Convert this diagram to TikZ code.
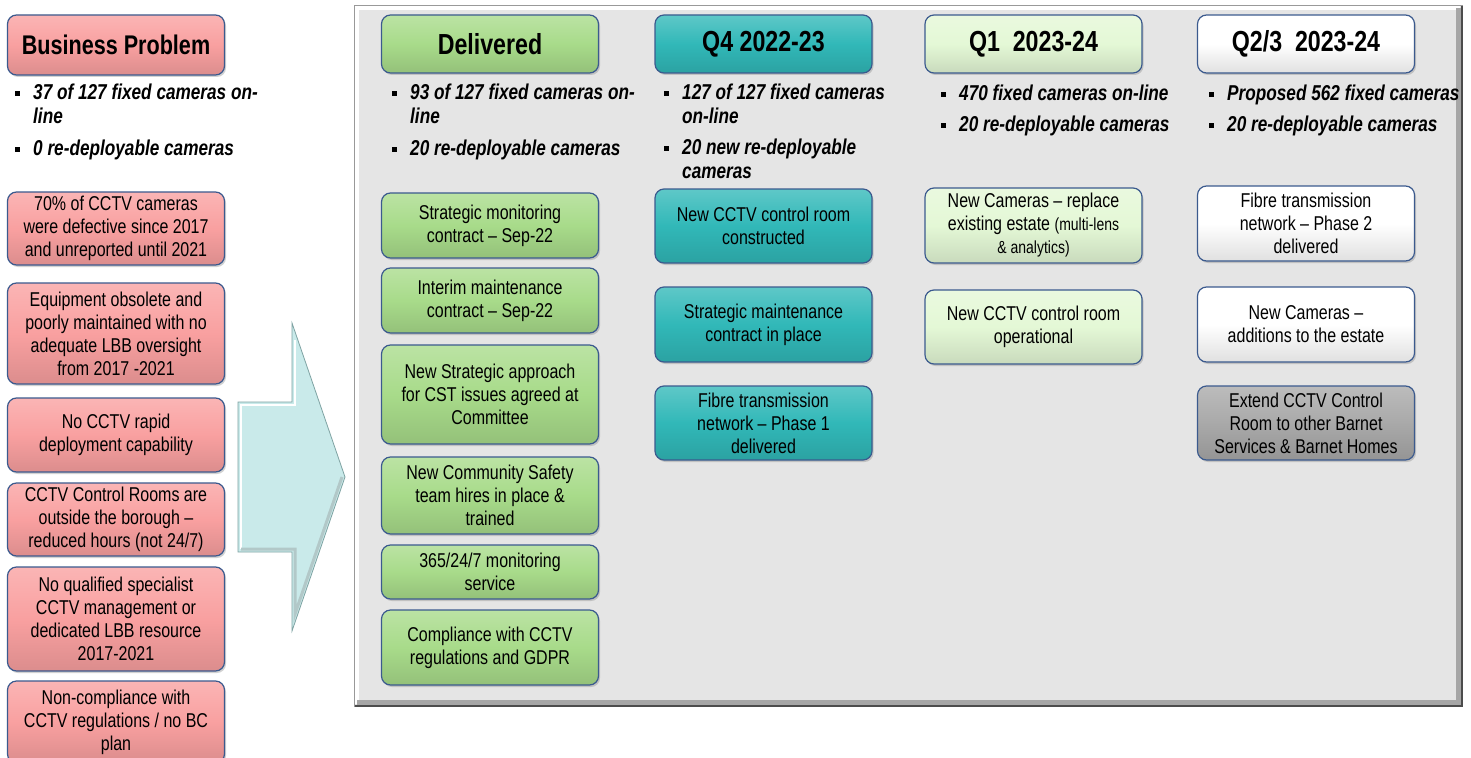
\documentclass[tikz,border=0pt]{standalone}
\usepackage{fontspec}
\setmainfont{Liberation Sans}[FakeStretch=0.8]
\usetikzlibrary{positioning, shadows}

\definecolor{edgeblue}{HTML}{3B5A8E}
\definecolor{redfill}{HTML}{F9A0A0}
\definecolor{greenfill}{HTML}{A8DB8A}
\definecolor{tealfill}{HTML}{31B8B8}
\definecolor{palefill}{HTML}{E4F8D6}
\definecolor{greyfill}{HTML}{A9A9A9}
\definecolor{panelfill}{HTML}{E5E5E5}
\definecolor{arrowfill}{HTML}{C9EAEA}
\definecolor{arrowedge}{HTML}{7FA3A3}

\newcommand{\boxfont}{\fontsize{20}{23}\selectfont}
\newcommand{\headfont}{\fontsize{29}{30}\selectfont\bfseries}
\newcommand{\listfont}{\fontsize{21.5}{24}\selectfont\bfseries\itshape}
\newcommand{\smallfont}{\fontsize{17.5}{20}\selectfont}
\newcommand{\sq}{\makebox[18pt][l]{\raisebox{4pt}{\rule{5pt}{5pt}}}}
\newcommand{\ind}{\hspace*{18pt}}

\tikzset{
    x=1pt, y=-1pt, % one unit per pixel, y runs down
    card/.style={rounded corners=9pt, draw=edgeblue, line width=1.2pt, inner sep=0pt,
        align=center, font=\boxfont, minimum width=217pt,
        drop shadow={shadow xshift=1.5pt, shadow yshift=-2pt, opacity=0.35}}, % every box
    tintfill/.style={top color=#1!78!white, bottom color=#1!88!black, middle color=#1}, % bevel look
    headcard/.style={card, font=\headfont, minimum height=58pt}, % column titles
    redcard/.style={card, tintfill=redfill},
    greencard/.style={card, tintfill=greenfill},
    tealcard/.style={card, tintfill=tealfill},
    palecard/.style={card, tintfill=palefill},
    whitecard/.style={card, top color=white, bottom color=black!12, middle color=white},
    greycard/.style={card, tintfill=greyfill},
    bullets/.style={anchor=north west, inner sep=0pt, align=left, font=\listfont}, % bullet lists
}

\begin{document}
\begin{tikzpicture}
    \useasboundingbox (0,0) rectangle (1471,757);
    \clip (0,0) rectangle (1471,757);
    \fill[white] (0,0) rectangle (1471,757);

    % grey panel
    \fill[panelfill] (354,5) rectangle (1463,707);
    \draw[white, line width=4pt] (357,704) -- (357,8) -- (1460,8);
    \draw[black!40, line width=0.8pt] (354,707) -- (354,5) -- (1463,5);
    \draw[black!35, line width=5pt] (1458,8) -- (1458,702) -- (357,702);
    \draw[black!70, line width=2pt] (1462,6) -- (1462,706) -- (355,706);

    % block arrow
    \fill[arrowfill] (238,402) -- (292,402) -- (292,323) -- (345,477) -- (292,631) -- (292,552) -- (238,552) -- cycle;
    \draw[white, line width=2.5pt] (241,549) -- (241,405) -- (295,405) -- (295,340);
    \draw[arrowedge!60!white, line width=3pt] (342,477) -- (295,614) -- (295,549) -- (241,549);
    \draw[arrowedge, line width=0.8pt] (238,402) -- (292,402) -- (292,323) -- (345,477) -- (292,631) -- (292,552) -- (238,552) -- cycle;

    \node[headcard, tintfill=redfill, minimum height=60pt, font=\fontsize{27}{30}\selectfont\bfseries] at (116,45) (PROBLEM) {Business Problem};
    \node[bullets] at (15,84) (PROBLEMLIST) {\sq 37 of 127 fixed cameras on-\\\ind line\\[8pt]\sq 0 re-deployable cameras};

    \node[redcard, minimum height=73pt] at ([yshift=-183.5pt]PROBLEM) (P1) {70\% of CCTV cameras\\were defective since 2017\\and unreported until 2021};
    \node[redcard, minimum height=101pt] at ([yshift=-105pt]P1) (P2) {Equipment obsolete and\\poorly maintained with no\\adequate LBB oversight\\from 2017 -2021};
    \node[redcard, minimum height=74pt] at ([yshift=-101.5pt]P2) (P3) {No CCTV rapid\\deployment capability};
    \node[redcard, minimum height=73pt] at ([yshift=-84.5pt]P3) (P4) {CCTV Control Rooms are\\outside the borough --\\reduced hours (not 24/7)};
    \node[redcard, minimum height=104pt] at ([yshift=-99.5pt]P4) (P5) {No qualified specialist\\CCTV management or\\dedicated LBB resource\\2017-2021};
    \node[redcard, minimum height=82pt] at ([yshift=-103pt]P5) (P6) {Non-compliance with\\CCTV regulations / no BC\\plan};

    \node[headcard, tintfill=greenfill] at (490,44) (DELIVERED) {Delivered};
    \node[bullets] at (392,84) (DELIVEREDLIST) {\sq 93 of 127 fixed cameras on-\\\ind line\\[8pt]\sq 20 re-deployable cameras};

    \node[greencard, minimum height=65pt] at ([yshift=-181.5pt]DELIVERED) (D1) {Strategic monitoring\\contract -- Sep-22};
    \node[greencard, minimum height=65pt] at ([yshift=-75pt]D1) (D2) {Interim maintenance\\contract -- Sep-22};
    \node[greencard, minimum height=99pt] at ([yshift=-94pt]D2) (D3) {New Strategic approach\\for CST issues agreed at\\Committee};
    \node[greencard, minimum height=77pt] at ([yshift=-101pt]D3) (D4) {New Community Safety\\team hires in place \&\\trained};
    \node[greencard, minimum height=54pt] at ([yshift=-76.5pt]D4) (D5) {365/24/7 monitoring\\service};
    \node[greencard, minimum height=75pt] at ([yshift=-75.5pt]D5) (D6) {Compliance with CCTV\\regulations and GDPR};

    \node[headcard, tintfill=tealfill] at (763.5,44) (QFOUR) {Q4 2022-23};
    \node[bullets] at (664,84) (QFOURLIST) {\sq 127 of 127 fixed cameras\\\ind on-line\\[7pt]\sq 20 new re-deployable\\\ind cameras};

    \node[tealcard, minimum height=74pt] at ([yshift=-182pt]QFOUR) (F1) {New CCTV control room\\constructed};
    \node[tealcard, minimum height=75pt] at ([yshift=-98.5pt]F1) (F2) {Strategic maintenance\\contract in place};
    \node[tealcard, minimum height=74pt] at ([yshift=-98.5pt]F2) (F3) {Fibre transmission\\network -- Phase 1\\delivered};

    \node[headcard, tintfill=palefill] at (1033.5,44) (QONE) {Q1\ \ 2023-24};
    \node[bullets] at (941,85) (QONELIST) {\sq 470 fixed cameras on-line\\[7pt]\sq 20 re-deployable cameras};

    \node[palecard, minimum height=75pt] at ([yshift=-181.5pt]QONE) (O1) {New Cameras -- replace\\existing estate {\smallfont (multi-lens}\\{\smallfont \& analytics)}};
    \node[palecard, minimum height=74pt] at ([yshift=-101.5pt]O1) (O2) {New CCTV control room\\operational};

    \node[headcard, top color=white, bottom color=black!12, middle color=white] at (1306,44) (QTWO) {Q2/3\ \ 2023-24};
    \node[bullets] at (1209,85) (QTWOLIST) {\sq Proposed 562 fixed cameras\\[7pt]\sq 20 re-deployable cameras};

    \node[whitecard, minimum height=75pt] at ([yshift=-179.5pt]QTWO) (T1) {Fibre transmission\\network -- Phase 2\\delivered};
    \node[whitecard, minimum height=75pt] at ([yshift=-101pt]T1) (T2) {New Cameras --\\additions to the estate};
    \node[greycard, minimum height=74pt] at ([yshift=-98.5pt]T2) (T3) {Extend CCTV Control\\Room to other Barnet\\Services \& Barnet Homes};
\end{tikzpicture}
\end{document}
